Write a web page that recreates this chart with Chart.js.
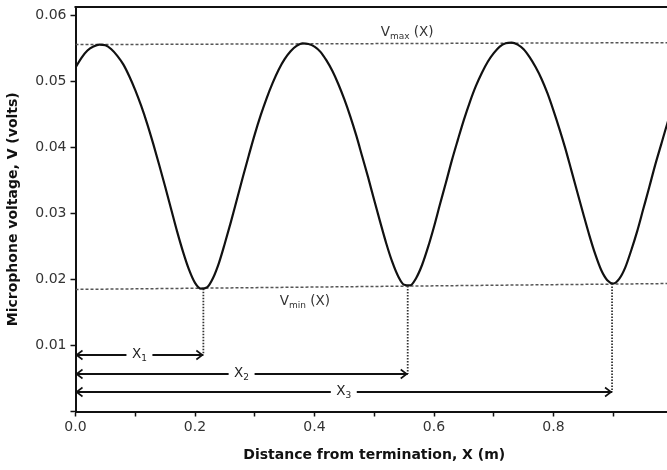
<!DOCTYPE html>
<html>
<head>
<meta charset="utf-8">
<script src="https://cdn.jsdelivr.net/npm/chart.js@4.4.1/dist/chart.umd.min.js"></script>
<style>
  html, body { margin: 0; padding: 0; background: #fff; overflow: hidden; }
  #wrap { width: 680px; height: 470px; }
</style>
</head>
<body>
<div id="wrap"><canvas id="chartStanding"></canvas></div>
<script>
// DATA

// distance from termination (m)
const distance = [
  0.00, 0.01, 0.02, 0.03, 0.04, 0.05, 0.06, 0.07, 0.08, 0.09,
  0.10, 0.11, 0.12, 0.13, 0.14, 0.15, 0.16, 0.17, 0.18, 0.19,
  0.20, 0.21, 0.22, 0.23, 0.24, 0.25, 0.26, 0.27, 0.28, 0.29,
  0.30, 0.31, 0.32, 0.33, 0.34, 0.35, 0.36, 0.37, 0.38, 0.39,
  0.40, 0.41, 0.42, 0.43, 0.44, 0.45, 0.46, 0.47, 0.48, 0.49,
  0.50, 0.51, 0.52, 0.53, 0.54, 0.55, 0.56, 0.57, 0.58, 0.59,
  0.60, 0.61, 0.62, 0.63, 0.64, 0.65, 0.66, 0.67, 0.68, 0.69,
  0.70, 0.71, 0.72, 0.73, 0.74, 0.75, 0.76, 0.77, 0.78, 0.79,
  0.80, 0.81, 0.82, 0.83, 0.84, 0.85, 0.86, 0.87, 0.88, 0.89,
  0.90, 0.91, 0.92, 0.93, 0.94, 0.95, 0.96, 0.97, 0.98, 0.99,
  1.00
];

// microphone voltage (volts)
const voltage = [
  0.0521, 0.0536, 0.0547, 0.0553, 0.0556, 0.0555, 0.0549, 0.0539, 0.0526, 0.0508,
  0.0487, 0.0463, 0.0436, 0.0406, 0.0374, 0.0341, 0.0307, 0.0273, 0.0242, 0.0215,
  0.0195, 0.0186, 0.0188, 0.0202, 0.0225, 0.0255, 0.0287, 0.0321, 0.0355, 0.0388,
  0.0420, 0.0449, 0.0475, 0.0498, 0.0518, 0.0534, 0.0546, 0.0554, 0.0558, 0.0557,
  0.0553, 0.0545, 0.0532, 0.0516, 0.0496, 0.0473, 0.0447, 0.0418, 0.0386, 0.0354,
  0.0320, 0.0287, 0.0255, 0.0227, 0.0205, 0.0192, 0.0191, 0.0202, 0.0222, 0.0249,
  0.0280, 0.0314, 0.0347, 0.0381, 0.0412, 0.0442, 0.0469, 0.0493, 0.0513, 0.0530,
  0.0543, 0.0553, 0.0558, 0.0559, 0.0556, 0.0549, 0.0537, 0.0522, 0.0504, 0.0482,
  0.0456, 0.0428, 0.0398, 0.0365, 0.0332, 0.0299, 0.0267, 0.0238, 0.0214, 0.0199,
  0.0194, 0.0201, 0.0218, 0.0244, 0.0273, 0.0306, 0.0339, 0.0373, 0.0404, 0.0435,
  0.0462
];

// envelope lines V_max(X) and V_min(X), at both ends of the axis
const envelopeX = [0.0, 1.0];
const vmaxLine = [0.0556, 0.0559];
const vminLine = [0.0185, 0.0194];

// positions of the minima and the levels of the X1, X2, X3 arrows
const minimaX = [0.214, 0.556, 0.898];
const minimaV = [0.0186, 0.0190, 0.0194];
const arrowLevels = [0.0086, 0.0057, 0.0029];
const arrowSubs = ['1', '2', '3'];

const xTicks = [0.0, 0.1, 0.2, 0.3, 0.4, 0.5, 0.6, 0.7, 0.8, 0.9, 1.0];
const yTicks = [0.00, 0.01, 0.02, 0.03, 0.04, 0.05, 0.06];

const FONT = '"DejaVu Sans", Verdana, sans-serif';
const INK = '#111';

// DATASETS

const curvePoints = distance.map((d, i) => ({ x: d, y: voltage[i] }));

const datasets = [
  {
    label: 'V(X)',
    data: curvePoints,
    borderColor: INK,
    borderWidth: 2.2,
    pointRadius: 0,
    cubicInterpolationMode: 'monotone',
  },
  {
    label: 'Vmax',
    data: envelopeX.map((d, i) => ({ x: d, y: vmaxLine[i] })),
    borderColor: '#555',
    borderWidth: 1.5,
    borderDash: [3, 2],
    pointRadius: 0,
  },
  {
    label: 'Vmin',
    data: envelopeX.map((d, i) => ({ x: d, y: vminLine[i] })),
    borderColor: '#555',
    borderWidth: 1.5,
    borderDash: [3, 2],
    pointRadius: 0,
  },
];

minimaX.forEach((mx, i) => {
  datasets.push({
    label: 'drop' + (i + 1),
    data: [{ x: mx, y: minimaV[i] }, { x: mx, y: arrowLevels[i] }],
    borderColor: '#333',
    borderWidth: 1.8,
    borderDash: [1.5, 1.5],
    pointRadius: 0,
  });
});

// ANNOTATIONS (top frame, arrows, labels)

function drawSubLabel(ctx, base, sub, rest, cx, cy, size) {
  const big = size + 'px ' + FONT;
  const small = Math.round(size * 0.7) + 'px ' + FONT;
  ctx.font = big;
  const w1 = ctx.measureText(base).width;
  const w3 = ctx.measureText(rest).width;
  ctx.font = small;
  const w2 = ctx.measureText(sub).width;
  let x = cx - (w1 + w2 + w3) / 2;
  ctx.textBaseline = 'middle';
  ctx.textAlign = 'left';
  ctx.font = big;
  ctx.fillText(base, x, cy);
  ctx.font = small;
  ctx.fillText(sub, x + w1, cy + size * 0.35);
  ctx.font = big;
  ctx.fillText(rest, x + w1 + w2, cy);
  return w1 + w2 + w3;
}

function arrowHead(ctx, px, py, dir) {
  ctx.beginPath();
  ctx.moveTo(px + dir * 6, py - 4.5);
  ctx.lineTo(px, py);
  ctx.lineTo(px + dir * 6, py + 4.5);
  ctx.stroke();
}

const annotations = {
  id: 'annotations',
  afterDatasetsDraw(chart) {
    const { ctx, chartArea, scales: { x, y } } = chart;
    ctx.save();

    // top frame line
    ctx.strokeStyle = INK;
    ctx.lineWidth = 2;
    ctx.beginPath();
    ctx.moveTo(chartArea.left - 1, chartArea.top);
    ctx.lineTo(chartArea.right, chartArea.top);
    ctx.stroke();

    ctx.fillStyle = '#333';
    drawSubLabel(ctx, 'V', 'max', ' (X)', x.getPixelForValue(0.555), y.getPixelForValue(0.0575), 13.5);
    drawSubLabel(ctx, 'V', 'min', ' (X)', x.getPixelForValue(0.384), y.getPixelForValue(0.0167), 13.5);

    minimaX.forEach((mx, i) => {
      const py = Math.round(y.getPixelForValue(arrowLevels[i]));
      const x0 = x.getPixelForValue(0);
      const x1 = x.getPixelForValue(mx);
      const xc = (x0 + x1) / 2;

      ctx.fillStyle = '#222';
      const w = drawSubLabel(ctx, 'X', arrowSubs[i], '', xc, py - 1, 13.5);
      const gap = w / 2 + 5.5;

      ctx.strokeStyle = INK;
      ctx.lineWidth = 2;
      ctx.beginPath();
      ctx.moveTo(x0, py);
      ctx.lineTo(xc - gap, py);
      ctx.moveTo(xc + gap, py);
      ctx.lineTo(x1, py);
      ctx.stroke();
      ctx.lineWidth = 1.6;
      arrowHead(ctx, x0 + 1, py, 1);
      arrowHead(ctx, x1 - 1, py, -1);
    });

    ctx.restore();
  }
};

// CHART

const ctx = document.getElementById('chartStanding').getContext('2d');
new Chart(ctx, {
  type: 'line',
  data: { datasets },
  plugins: [annotations],
  options: {
    responsive: true,
    maintainAspectRatio: false,
    animation: false,
    layout: { padding: { top: 7, right: 7, left: 0, bottom: 0 } },
    plugins: {
      legend: { display: false },
      tooltip: { enabled: false },
    },
    scales: {
      x: {
        type: 'linear',
        min: 0,
        max: 1.0,
        afterBuildTicks: s => { s.ticks = xTicks.map(v => ({ value: v })); },
        afterFit: s => {
          s.height = 58.5;
          s.paddingLeft = 0;
          s.paddingRight = 0;
        },
        ticks: {
          color: '#333',
          font: { family: FONT, size: 14 },
          padding: 2,
          maxRotation: 0,
          autoSkip: false,
          // only the even tenths get a label; 1.0 falls off the picture
          callback: (v, i) => (i % 2 === 0 && i < 10 ? Number(v).toFixed(1) : ''),
        },
        grid: { drawOnChartArea: false, color: INK, tickLength: 5, tickWidth: 1.5 },
        border: { color: INK, width: 2 },
        title: {
          display: true,
          text: 'Distance from termination, X (m)',
          color: INK,
          font: { family: FONT, size: 14, weight: 'bold' },
          padding: { top: 0, bottom: 6 },
        },
      },
      y: {
        type: 'linear',
        min: 0,
        max: 0.0613,
        afterBuildTicks: s => { s.ticks = yTicks.map(v => ({ value: v })); },
        afterFit: s => {
          s.width = 75.5;
          s.paddingTop = 0;
          s.paddingBottom = 0;
        },
        ticks: {
          color: '#333',
          font: { family: FONT, size: 14 },
          padding: 4,
          callback: v => (v === 0 ? '' : Number(v).toFixed(2)),
        },
        grid: { drawOnChartArea: false, color: INK, tickLength: 5, tickWidth: 1.5 },
        border: { color: INK, width: 2 },
        title: {
          display: true,
          text: 'Microphone voltage, V (volts)',
          color: INK,
          font: { family: FONT, size: 14, weight: 'bold' },
          padding: { top: 5, bottom: 0 },
        },
      },
    },
  },
});
</script>
</body>
</html>
